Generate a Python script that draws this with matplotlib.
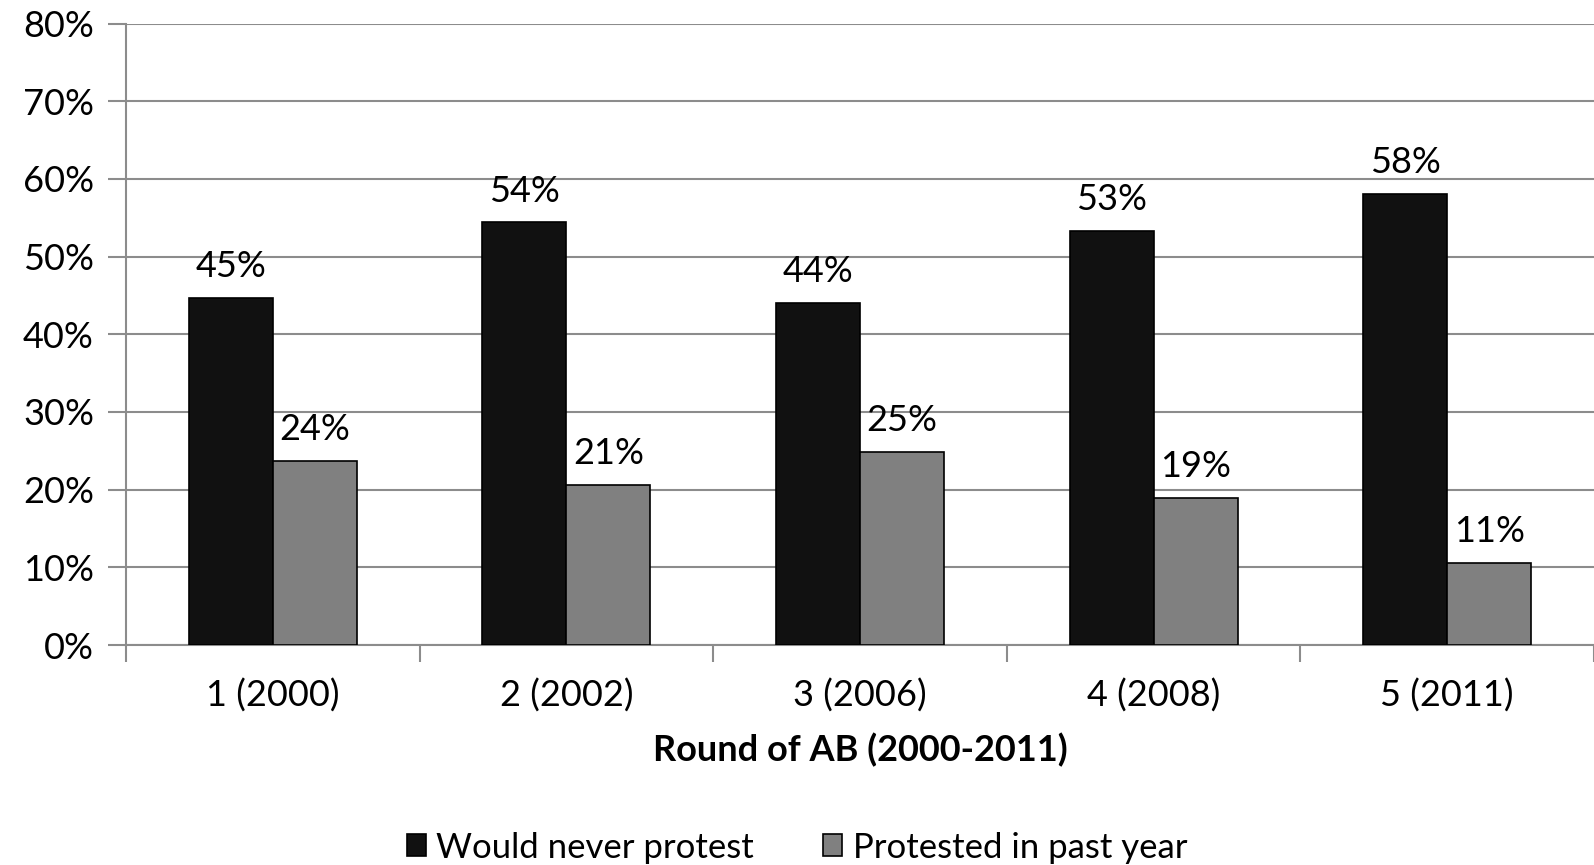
import matplotlib
matplotlib.use("Agg")
import matplotlib.pyplot as plt
import numpy as np

ROUNDS = ["1 (2000)", "2 (2002)", "3 (2006)", "4 (2008)", "5 (2011)"]
NEVER_PROTEST = [44.7, 54.4, 44.0, 53.3, 58.1]
PROTESTED = [23.7, 20.6, 24.9, 18.9, 10.6]

FONT = "Lato"
FONTSIZE = 26
BLACK = "#111111"
GREY = "#808080"
GRID = "#8c8c8c"
BAR_W = 0.286

plt.rcParams["font.family"] = [FONT, "DejaVu Sans"]

fig = plt.figure(figsize=(15.94, 8.65), dpi=100)
ax = fig.add_axes([0.079, 0.2543, 0.921, 0.7185])

x = np.arange(len(ROUNDS))
b1 = ax.bar(x - BAR_W / 2, NEVER_PROTEST, BAR_W, color=BLACK, edgecolor="black",
            linewidth=1.2, label="Would never protest", zorder=3)
b2 = ax.bar(x + BAR_W / 2, PROTESTED, BAR_W, color=GREY, edgecolor="black",
            linewidth=1.2, label="Protested in past year", zorder=3)

for bars, vals in ((b1, NEVER_PROTEST), (b2, PROTESTED)):
    for rect, v in zip(bars, vals):
        ax.annotate(f"{v:.0f}%", (rect.get_x() + rect.get_width() / 2, v),
                    xytext=(0, 15), textcoords="offset points",
                    ha="center", va="baseline", fontsize=FONTSIZE, color="black")

ax.set_xlim(-0.5, len(ROUNDS) - 0.5)
ax.set_ylim(0, 80)
ax.set_yticks(np.arange(0, 81, 10))
ax.set_yticklabels([f"{t}%" for t in range(0, 81, 10)], fontsize=FONTSIZE)
ax.yaxis.grid(True, color=GRID, linewidth=1.5, zorder=0)

# category boundaries get the ticks, centres get the labels
ax.set_xticks(np.arange(-0.5, len(ROUNDS), 1.0))
ax.set_xticklabels([])
ax.set_xticks(x, minor=True)
ax.set_xticklabels(ROUNDS, minor=True, fontsize=FONTSIZE)
ax.tick_params(axis="x", which="major", length=12, width=1.5, color=GRID, direction="out")
ax.tick_params(axis="x", which="minor", length=0, pad=24)
ax.tick_params(axis="y", length=13, width=1.5, color=GRID, pad=10)

for s in ["top", "right"]:
    ax.spines[s].set_visible(False)
for s in ["left", "bottom"]:
    ax.spines[s].set_color(GRID)
    ax.spines[s].set_linewidth(1.5)

ax.set_xlabel("Round of AB (2000-2011)", fontsize=FONTSIZE, fontweight="bold", labelpad=15)

fig.legend(handles=[b1, b2], loc="center", bbox_to_anchor=(0.5, 0.02), ncol=2,
           frameon=False, fontsize=25, handlelength=0.55, handleheight=0.6,
           handletextpad=0.3, columnspacing=2.0)

plt.savefig("out.png", dpi=100)
